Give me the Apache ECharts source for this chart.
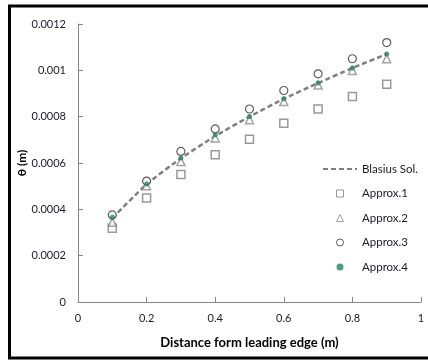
<!DOCTYPE html>
<html>
<head>
<meta charset="utf-8">
<script src="https://cdn.jsdelivr.net/npm/echarts@6/dist/echarts.min.js"></script>
<style>
  html, body { margin: 0; padding: 0; background: #fff; }
  #chart { width: 428px; height: 362px; }
</style>
</head>
<body>
<div id="chart"></div>
<script>
// distance from leading edge (m)
const xValues = [0.1, 0.2, 0.3, 0.4, 0.5, 0.6, 0.7, 0.8, 0.9];

// momentum thickness theta (m)
const blasius = [0.000362, 0.000508, 0.000620, 0.000716, 0.000800, 0.000877, 0.000945, 0.001010, 0.001070];
const approx1 = [0.000318, 0.000449, 0.000550, 0.000636, 0.000703, 0.000772, 0.000833, 0.000887, 0.000940];
const approx2 = [0.000344, 0.000502, 0.000607, 0.000708, 0.000787, 0.000866, 0.000937, 0.000999, 0.001050];
const approx3 = [0.000376, 0.000522, 0.000650, 0.000747, 0.000833, 0.000913, 0.000985, 0.001050, 0.001120];
const approx4 = [0.000366, 0.000509, 0.000622, 0.000722, 0.000801, 0.000877, 0.000945, 0.001010, 0.001070];

const seriesNames = ["Blasius Sol.", "Approx.1", "Approx.2", "Approx.3", "Approx.4"];

const pairs = (ys) => xValues.map((x, i) => [x, ys[i]]);
const fmt = (v) => String(+v.toFixed(4));

const font = "Lato, 'Open Sans', sans-serif";
const axisGray = "#868686";

const chart = echarts.init(document.getElementById("chart"), null, { renderer: "canvas" });

const markerSeries = (name, ys, symbol, size, color, fill, border) => ({
    name,
    type: "scatter",
    data: pairs(ys),
    symbol,
    symbolSize: size,
    itemStyle: {
        color: fill,
        borderColor: color,
        borderWidth: border,
    },
    emphasis: { disabled: true },
});

// legend icons drawn as paths so they keep a square aspect
const squareIcon = "path://M0,0L10,0L10,10L0,10Z";
const triangleIcon = "path://M5,0L10,10L0,10Z";

const option = {
    animation: false,
    backgroundColor: "#fff",
    textStyle: { fontFamily: font },
    grid: {
        left: 78,
        right: 7,
        top: 24,
        bottom: 60,
    },
    legend: {
        orient: "vertical",
        left: 317,
        top: 158,
        itemWidth: 34,
        itemHeight: 7,
        itemGap: 12.5,
        symbolKeepAspect: true,
        data: [
            { name: seriesNames[0], itemStyle: { opacity: 0 } },
            { name: seriesNames[1], icon: squareIcon, itemStyle: { borderWidth: 1 } },
            { name: seriesNames[2], icon: triangleIcon, itemStyle: { borderWidth: 1 } },
            { name: seriesNames[3], icon: "circle", itemStyle: { borderWidth: 1 } },
            { name: seriesNames[4], icon: "circle" },
        ],
        textStyle: { fontFamily: font, fontSize: 11.5, color: "#1a1a2a" },
    },
    xAxis: {
        type: "value",
        min: 0,
        max: 1,
        interval: 0.2,
        name: "Distance form leading edge (m)",
        nameLocation: "middle",
        nameGap: 34,
        nameTextStyle: { fontFamily: font, fontSize: 13, fontWeight: "bold", color: "#000" },
        axisLine: { lineStyle: { color: axisGray, width: 1 } },
        axisTick: { show: true, inside: true, length: 5, lineStyle: { color: axisGray } },
        axisLabel: { formatter: fmt, fontSize: 11, color: "#1a1a2a", margin: 11 },
        splitLine: { show: false },
    },
    yAxis: {
        type: "value",
        min: 0,
        max: 0.0012,
        interval: 0.0002,
        name: "θ (m)",
        nameLocation: "middle",
        nameGap: 50,
        nameMoveOverlap: false,
        nameTextStyle: { fontFamily: font, fontSize: 12, fontWeight: "bold", color: "#000" },
        axisLine: { show: true, lineStyle: { color: axisGray, width: 1 } },
        axisTick: { show: true, inside: true, length: 5, lineStyle: { color: axisGray } },
        axisLabel: { formatter: fmt, fontSize: 11, color: "#1a1a2a", margin: 12 },
        splitLine: { show: false },
    },
    graphic: [
        {
            type: "rect",
            shape: { x: 9.5, y: 6, width: 440, height: 352 },
            style: { fill: "none", stroke: "#000", lineWidth: 3 },
            silent: true,
            z: 100,
        },
    ],
    series: [
        {
            name: seriesNames[0],
            type: "line",
            data: pairs(blasius),
            symbol: "none",
            smooth: 0.2,
            lineStyle: { color: "#808080", width: 2.5, type: [5, 3] },
            itemStyle: { color: "#808080" },
            emphasis: { disabled: true },
            z: 1,
        },
        markerSeries(seriesNames[1], approx1, "rect", 8, "#7f7f7f", "#fff", 1.5),
        markerSeries(seriesNames[2], approx2, "triangle", 8, "#8c8c8c", "#fff", 1.5),
        markerSeries(seriesNames[3], approx3, "circle", 8, "#333", "#fff", 1.2),
        markerSeries(seriesNames[4], approx4, "circle", 5, "#23875b", "#23875b", 0),
    ],
};

chart.setOption(option);
</script>
</body>
</html>
